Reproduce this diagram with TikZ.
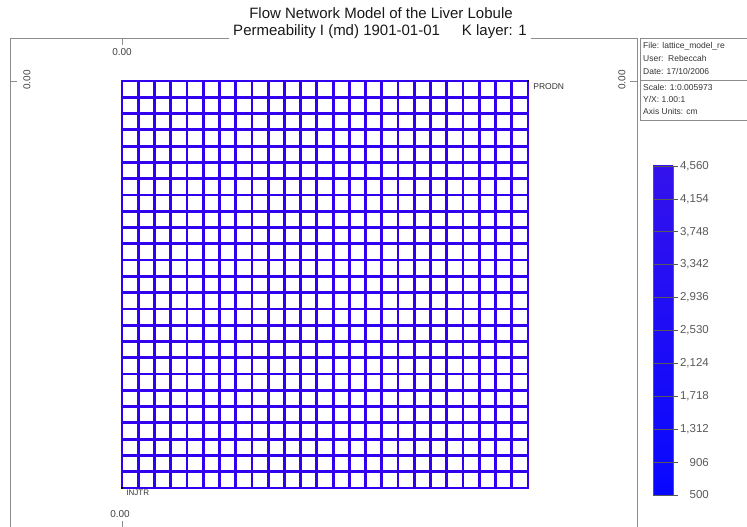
\documentclass[tikz,border=0pt]{standalone}
\usepackage{fontspec}
\setmainfont{Liberation Sans}
\usetikzlibrary{positioning}
\definecolor{latticeblue}{RGB}{50,0,240}
\definecolor{bartop}{RGB}{52,18,236}
\definecolor{barbottom}{RGB}{8,8,255}

\begin{document}
\begin{tikzpicture}[x=1pt, y=1pt,
    frame/.style={draw=black!45, line width=0.7pt},
    titletext/.style={font=\fontsize{15}{16}\selectfont, text=black!90, anchor=base, inner xsep=4pt, inner ysep=1pt},
    axislabel/.style={font=\fontsize{10}{11}\selectfont, text=black!75, inner sep=0pt},
    infotext/.style={font=\fontsize{8.5}{9}\selectfont, text=black!80, anchor=west, inner sep=0pt},
    lattice/.style={draw=latticeblue, line width=2.8pt},
    welllabel/.style={font=\fontsize{8.5}{9}\selectfont, text=black!80, anchor=west, inner sep=0pt},
    welldot/.style={fill=black, minimum size=2pt, inner sep=0pt},
    cbtick/.style={draw=black!65, line width=0.6pt},
    cblabel/.style={font=\fontsize{11.5}{12}\selectfont, text=black!65, anchor=east, inner sep=0pt}
  ]
    \useasboundingbox (0,0) rectangle (747,527);
    \clip (0,0) rectangle (747,527);

    % titles
    \node[titletext] (title1) at (381,508) {Flow Network Model of the Liver Lobule};
    \node[titletext] (title2) at (380,491) {Permeability I (md) 1901-01-01\hspace{22pt}K layer: 1};

    % frame
    \coordinate (ftl) at (10,489);
    \coordinate (ftr) at (637,489);
    \coordinate (fbl) at (10,-2);
    \coordinate (fbr) at (637,-2);
    \draw[frame] (title2.west |- ftl) -- (ftl) -- (fbl);
    \draw[frame] (title2.east |- ftr) -- (ftr) -- (fbr);

    % axis ticks and labels
    \coordinate (xtop) at (122,482);
    \coordinate (xbot) at (122,6);
    \coordinate (yleft) at (17,446);
    \coordinate (yright) at (630,446);
    \draw[frame] (xtop) -- (xtop |- ftl);
    \draw[frame] (xbot) -- (122,-2);
    \draw[frame] (yleft) -- (yleft -| ftl);
    \draw[frame] (yright) -- (yright -| ftr);
    \node[axislabel] (labtop) at (122,475) {0.00};
    \node[axislabel] (labbot) at (120,13) {0.00};
    \node[axislabel, rotate=90] (lableft) at (27,447) {0.00};
    \node[axislabel, rotate=90] (labright) at (622,447) {0.00};

    % lattice 25 x 25
    \coordinate (sw) at (122,39);
    \coordinate (ne) at (528,446);
    \foreach \k in {1,...,24} {
      \draw[lattice] ({122+\k*16.24},39) -- ({122+\k*16.24},446);
      \draw[lattice] (122,{39+\k*16.28}) -- (528,{39+\k*16.28});
    }
    \draw[lattice] (sw) rectangle (ne);

    % wells
    \node[welldot] (prodn) at (ne) {};
    \node[welldot] (injtr) at (sw) {};
    \node[welllabel, right=4pt of prodn, yshift=-6pt] (prodnlab) {PRODN};
    \node[welllabel, font=\fontsize{8}{9}\selectfont, below right=1pt and 3pt of injtr] (injtrlab) {INJTR};

    % info box
    \draw[frame] (640,407) rectangle (760,489);
    \draw[frame] (640,447) -- (760,447);
    \node[infotext] (file) at (643,481) {File: lattice\_model\_re};
    \node[infotext] (user) at (643,469) {User:\ \ Rebeccah};
    \node[infotext] (date) at (643,456) {Date: 17/10/2006};
    \node[infotext] (scale) at (643,440) {Scale: 1:0.005973};
    \node[infotext] (ratio) at (643,428) {Y/X: 1.00:1};
    \node[infotext] (units) at (643,416) {Axis Units: cm};

    % colour bar
    \coordinate (cbtop) at (653,361);
    \coordinate (cbbot) at (673,32);
    \shade[top color=bartop, bottom color=barbottom] (cbbot -| cbtop) rectangle (cbbot |- cbtop);
    \draw[cbtick] (cbbot -| cbtop) rectangle (cbbot |- cbtop);
    \foreach \v [count=\i from 0] in {{4,560},{4,154},{3,748},{3,342},{2,936},{2,530},{2,124},{1,718},{1,312},906,500} {
      \draw[cbtick] (653,{361-\i*32.9}) -- (678,{361-\i*32.9});
      \node[cblabel] (cb\i) at (709,{361-\i*32.9}) {\v};
    }
  \end{tikzpicture}
\end{document}
